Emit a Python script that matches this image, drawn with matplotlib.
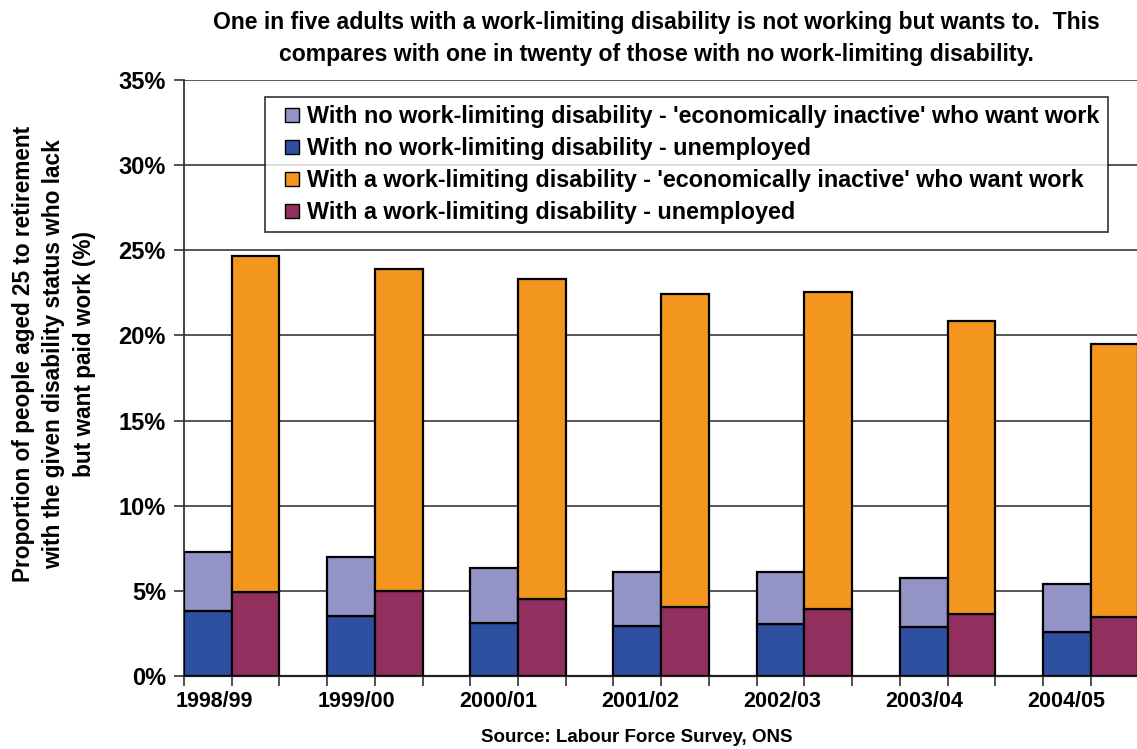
import matplotlib
matplotlib.use("Agg")
import matplotlib.pyplot as plt
from matplotlib.patches import Patch, Rectangle
from matplotlib.legend_handler import HandlerPatch
import numpy as np

years = ["1998/99", "1999/00", "2000/01", "2001/02", "2002/03", "2003/04", "2004/05"]
no_dis_unemployed = [3.82, 3.53, 3.12, 2.94, 3.04, 2.86, 2.59]
no_dis_inactive = [3.47, 3.45, 3.23, 3.16, 3.06, 2.89, 2.82]
dis_unemployed = [4.92, 5.02, 4.51, 4.08, 3.92, 3.65, 3.45]
dis_inactive = [19.77, 18.89, 18.79, 18.36, 18.62, 17.17, 16.04]

labels = [
    "With no work-limiting disability - 'economically inactive' who want work",
    "With no work-limiting disability - unemployed",
    "With a work-limiting disability - 'economically inactive' who want work",
    "With a work-limiting disability - unemployed",
]
c_lav, c_blue, c_orange, c_maroon = "#9493C6", "#2F4FA0", "#F3961E", "#91305F"

plt.rcParams['font.family'] = ['Liberation Sans', 'DejaVu Sans']

fig = plt.figure(figsize=(11.37, 7.49), dpi=100)
ax = fig.add_axes([184/1137, 73/749, (1137-184)/1137, (676-80)/749])

n = len(years)
x0 = np.arange(n) * 3.0
x1 = x0 + 1.0
ekw = dict(edgecolor="black", linewidth=1.6, width=1.0, align="edge", zorder=3)
ax.bar(x0, no_dis_unemployed, color=c_blue, **ekw)
ax.bar(x0, no_dis_inactive, bottom=no_dis_unemployed, color=c_lav, **ekw)
ax.bar(x1, dis_unemployed, color=c_maroon, **ekw)
ax.bar(x1, dis_inactive, bottom=dis_unemployed, color=c_orange, **ekw)

ax.set_xlim(0, 19.97)
ax.set_ylim(0, 35)
ax.set_yticks(np.arange(0, 36, 5))
ax.set_yticklabels([f"{v}%" for v in range(0, 36, 5)], fontsize=17, fontweight="bold")
ax.yaxis.grid(True, color="#3a3a3a", linewidth=1.2, zorder=0)
ax.set_axisbelow(True)

ax.set_xticks(np.arange(0, 20))
ax.set_xticklabels([])
label_pos = 0.63 + np.arange(n) * 2.976
ax.set_xticks(label_pos, minor=True)
ax.set_xticklabels(years, minor=True, fontsize=15.5, fontweight="bold")
ax.tick_params(axis="x", which="minor", length=0, pad=11)
ax.tick_params(axis="x", which="major", length=7, width=1.2, direction="out", color="#333333")
ax.tick_params(axis="y", length=7, width=1.2, color="#333333", pad=6)

for s in ["top", "right"]:
    ax.spines[s].set_visible(False)
ax.spines["left"].set_color("#333333")
ax.spines["left"].set_linewidth(1.3)
ax.spines["bottom"].set_color("#222222")
ax.spines["bottom"].set_linewidth(1.6)

fig.text(54/1137, 1 - 354/749,
         "Proportion of people aged 25 to retirement\nwith the given disability status who lack\nbut want paid work (%)",
         rotation=90, ha="center", va="center", fontsize=16.3, linespacing=1.42, fontweight="bold",
         multialignment="center")


class SquareHandler(HandlerPatch):
    def create_artists(self, legend, orig_handle, xdescent, ydescent, width, height, fontsize, trans):
        side = 14 * 72 / 100.0
        r = Rectangle((width - side - xdescent, (height - side) / 2 - ydescent), side, side,
                      facecolor=orig_handle.get_facecolor(), edgecolor="black", linewidth=1.0,
                      transform=trans)
        return [r]


handles = [Patch(facecolor=c, edgecolor="black") for c in [c_lav, c_blue, c_orange, c_maroon]]
leg = ax.legend(handles, labels, loc="upper left",
                bbox_to_anchor=((265-184)/(1137-184), (676-97)/(676-80)),
                prop={"weight": "bold", "size": 16.8}, frameon=True, fancybox=False, edgecolor="black",
                handler_map={Patch: SquareHandler()},
                handlelength=1.1, handleheight=0.7, handletextpad=0.35, labelspacing=0.38,
                borderpad=0.35, borderaxespad=0)
leg.get_frame().set_linewidth(1.2)
leg.set_zorder(5)

title_fs = 16.6
fig.text(656/1137, 1 - 22/749, "One in five adults with a work-limiting disability is not working but wants to.  This",
         ha="center", va="center", fontsize=title_fs, fontweight="bold")
fig.text(656/1137, 1 - 55/749, "compares with one in twenty of those with no work-limiting disability.",
         ha="center", va="center", fontsize=title_fs, fontweight="bold")
fig.text(637/1137, 1 - 738/749, "Source: Labour Force Survey, ONS", ha="center", va="center",
         fontsize=13.5, fontweight="bold")

fig.savefig("out.png", dpi=100)
